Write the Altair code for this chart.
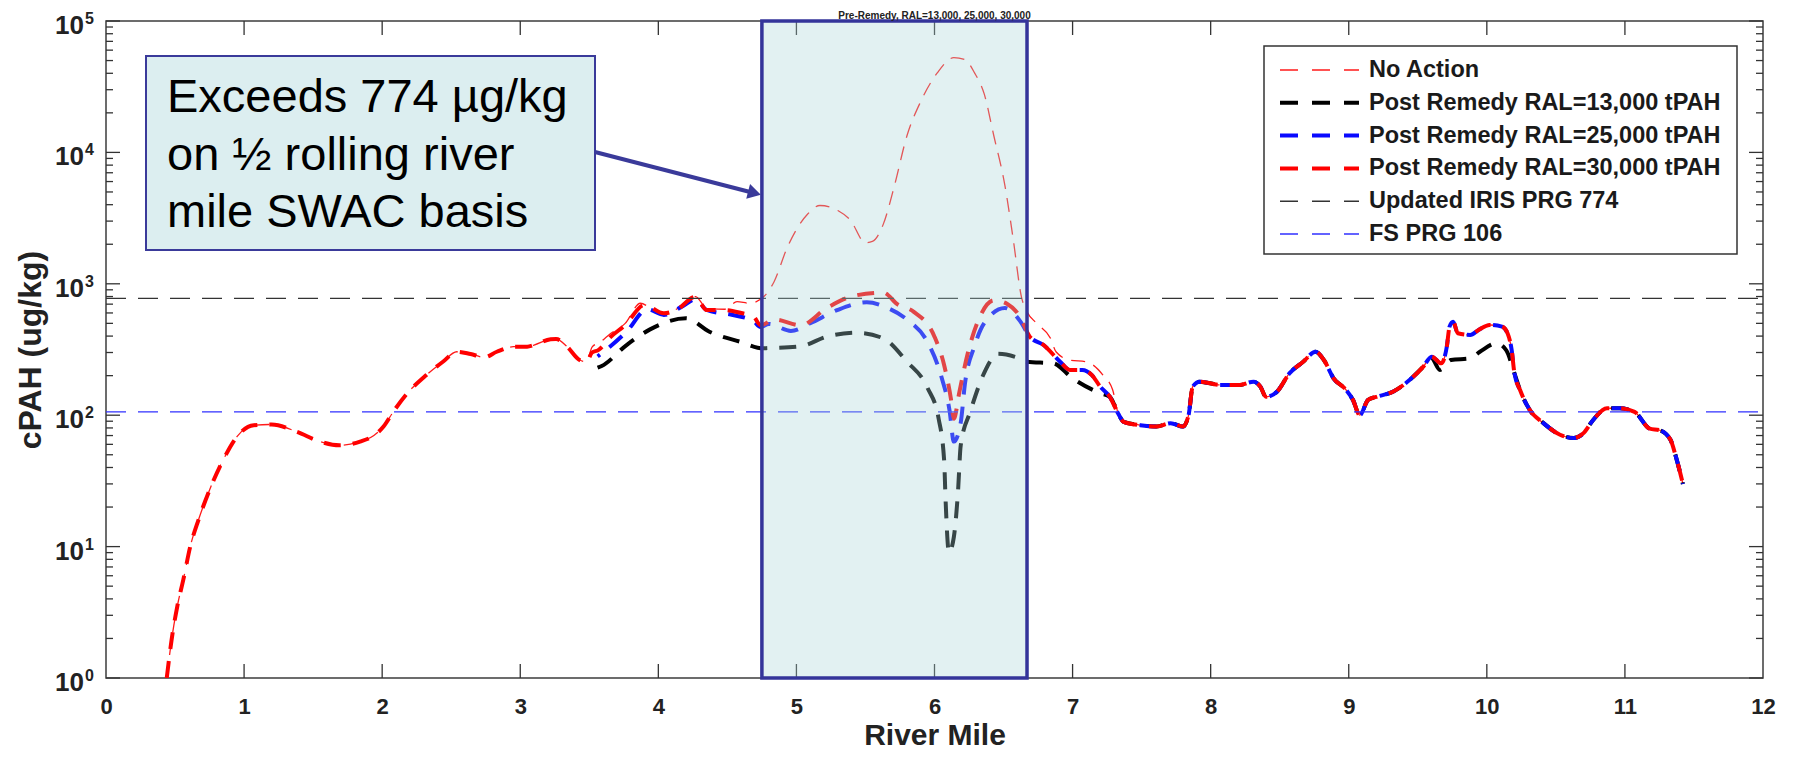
import altair as alt
import pandas as pd

# ---------------- data ----------------
x_ticks = list(range(0, 13))
decades = [1, 10, 100, 1000, 10000, 100000]
decade_exp = ["0", "1", "2", "3", "4", "5"]
minor_ticks = [k * d for d in [1, 10, 100, 1000, 10000] for k in range(2, 10)]

upstream_mile = [0.44, 0.475, 0.516, 0.56, 0.61, 0.67, 0.75, 0.85, 0.95, 1.07, 1.2, 1.38, 1.55, 1.69, 1.84,
                 1.94, 2.01, 2.08, 2.17, 2.32, 2.44, 2.54, 2.64, 2.74, 2.83, 2.95, 3.05, 3.10, 3.22, 3.26,
                 3.34, 3.43, 3.48]
upstream_cpah = [1.0, 1.95, 3.5, 5.6, 10, 16, 27, 46, 69, 84, 85, 75, 63, 59, 63,
                 70, 82, 106, 142, 202, 255, 304, 292, 276, 304, 332, 332, 342, 378, 380,
                 332, 263, 255]

noaction_mid_mile = [3.52, 3.58, 3.65, 3.76, 3.87, 3.95, 4.04, 4.13, 4.27, 4.35, 4.48, 4.57, 4.66, 4.77, 4.84,
                     4.93, 5.08, 5.17, 5.30, 5.39, 5.50, 5.55, 5.63, 5.71, 5.80, 5.90, 6.02, 6.14, 6.22, 6.29,
                     6.36, 6.43, 6.51, 6.57, 6.63, 6.67, 6.74, 6.84, 6.88, 6.98, 7.10, 7.22, 7.29]
noaction_mid_cpah = [330, 360, 415, 500, 711, 650, 600, 640, 800, 650, 640, 731, 711, 811, 1047,
                     1849, 3380, 3945, 3615, 3057, 2050, 2100, 2858, 5585, 13330, 24380, 40270, 52600, 50850, 40270,
                     27860, 13330, 5585, 2188, 791, 613, 500, 385, 304, 263, 255, 202, 156]

ral30_mid_mile = [3.52, 3.565, 3.65, 3.76, 3.90, 4.04, 4.13, 4.27, 4.35, 4.48, 4.60, 4.69, 4.74, 4.84, 5.03,
                  5.22, 5.42, 5.63, 5.73, 5.85, 6.00, 6.07, 6.12, 6.14, 6.18, 6.24, 6.32, 6.43, 6.53, 6.62]
ral30_mid_cpah = [300, 313, 390, 486, 690, 596, 632, 798, 632, 632, 600, 562, 484, 535, 484,
                  655, 811, 857, 700, 612, 396, 240, 131, 94, 150, 293, 535, 749, 700, 560]

ral25_mid_mile = [3.56, 3.59, 3.77, 3.92, 4.04, 4.17, 4.27, 4.35, 4.54, 4.69, 4.74, 4.80, 4.96, 5.10, 5.30,
                  5.51, 5.66, 5.80, 5.95, 6.05, 6.11, 6.14, 6.19, 6.22, 6.29, 6.36, 6.51, 6.62]
ral25_mid_cpah = [280, 296, 432, 640, 580, 670, 760, 632, 579, 520, 470, 495, 438, 501, 634,
                  724, 655, 535, 359, 196, 107, 63, 88, 172, 336, 501, 655, 520]

ral13_mid_mile = [3.56, 3.59, 3.77, 3.94, 4.20, 4.37, 4.59, 4.76, 4.79, 5.03, 5.22, 5.44, 5.63, 5.80, 5.95,
                  6.03, 6.07, 6.08, 6.105, 6.14, 6.17, 6.19, 6.26, 6.36, 6.46, 6.60, 6.67, 6.86, 7.00, 7.20,
                  7.27]
ral13_mid_cpah = [230, 237, 342, 450, 546, 432, 363, 323, 324, 335, 396, 424, 384, 256, 161,
                  94, 45, 23, 9.0, 11.8, 26, 59, 107, 210, 293, 274, 255, 248, 191, 147,
                  138]

recovery_mile = [6.69, 6.79, 6.91, 6.98, 7.07, 7.14, 7.20, 7.27]
recovery_cpah = [396, 342, 255, 221, 221, 202, 165, 138]

lower_mile = [7.33, 7.37, 7.49, 7.61, 7.71, 7.80, 7.84, 7.87, 7.92, 8.07, 8.21, 8.31, 8.36, 8.40, 8.48,
              8.57, 8.67, 8.76, 8.82, 8.89, 8.98, 9.03, 9.08, 9.14, 9.20, 9.32, 9.44, 9.54]
lower_cpah = [103, 89, 84, 82, 87, 82, 100, 165, 180, 170, 170, 180, 165, 138, 151,
              208, 255, 304, 263, 191, 156, 131, 100, 131, 138, 151, 185, 234]

peak_mile = [9.60, 9.67, 9.71, 9.73, 9.756, 9.79, 9.88, 9.94, 10.02, 10.11, 10.15, 10.18]
peak_cpah = [279, 248, 332, 472, 515, 420, 408, 445, 486, 472, 420, 313]

ral13_peak_mile = [9.60, 9.66, 9.74, 9.88, 9.95, 10.07, 10.14]
ral13_peak_cpah = [270, 221, 263, 271, 304, 352, 313]

tail_mile = [10.20, 10.24, 10.31, 10.41, 10.53, 10.63, 10.70, 10.77, 10.87, 10.96, 11.07, 11.18, 11.25,
             11.33, 11.37, 11.42]
tail_cpah = [208, 156, 110, 87, 71, 67, 73, 92, 113, 113, 106, 79, 77, 65, 48, 30]

iris_prg = 774
fs_prg = 106
region_start, region_end = 4.75, 6.67

legend_labels = ["No Action", "Post Remedy RAL=13,000 tPAH", "Post Remedy RAL=25,000 tPAH",
                 "Post Remedy RAL=30,000 tPAH", "Updated IRIS PRG 774", "FS PRG 106"]
note_lines = ["Exceeds 774 \u00b5g/kg", "on \u00bd rolling river", "mile SWAC basis"]
title_text = "Pre-Remedy, RAL=13,000, 25,000, 30,000"

# ---------------- helpers ----------------
W, H = 1657, 657
FONT = "Liberation Sans, Arial, Helvetica, sans-serif"
TXT = "#222222"
xs = alt.Scale(domain=[0, 12], nice=False, zero=False)
ys = alt.Scale(type="log", domain=[1, 100000], nice=False)

x_axis = alt.Axis(values=x_ticks, format="d", ticks=False, tickSize=0, domain=False, grid=False,
                  labelFont=FONT, labelFontSize=22, labelFontWeight="bold", labelColor=TXT,
                  labelPadding=18, labelFlush=False, labelOverlap=False,
                  title="River Mile", titleFont=FONT, titleFontSize=30, titleFontWeight="bold",
                  titleColor=TXT, titleY=57, titleBaseline="middle")
y_axis = alt.Axis(labels=False, ticks=False, domain=False, grid=False,
                  title="cPAH (ug/kg)", titleFont=FONT, titleFontSize=32, titleFontWeight="bold",
                  titleColor=TXT, titleX=-76, titleY=H / 2, titleAngle=270,
                  titleBaseline="middle", titleAlign="center")


def X():
    return alt.X("mile:Q", scale=xs, axis=x_axis)


def Y():
    return alt.Y("cpah:Q", scale=ys, axis=y_axis)


def frame(m, v):
    return pd.DataFrame({"mile": m, "cpah": v})


na_df = frame(upstream_mile + noaction_mid_mile + lower_mile + peak_mile + tail_mile,
              upstream_cpah + noaction_mid_cpah + lower_cpah + peak_cpah + tail_cpah)
r30_df = frame(upstream_mile + ral30_mid_mile + recovery_mile + lower_mile + peak_mile + tail_mile,
               upstream_cpah + ral30_mid_cpah + recovery_cpah + lower_cpah + peak_cpah + tail_cpah)
r25_df = frame(ral25_mid_mile + recovery_mile + lower_mile + peak_mile + tail_mile,
               ral25_mid_cpah + recovery_cpah + lower_cpah + peak_cpah + tail_cpah)
r13_df = frame(ral13_mid_mile + lower_mile + ral13_peak_mile + tail_mile,
               ral13_mid_cpah + lower_cpah + ral13_peak_cpah + tail_cpah)

styles = [
    dict(color="#ff1a1a", width=1.3, dash=[14, 9], off=0),
    dict(color="#000000", width=4, dash=[17, 12], off=0),
    dict(color="#0a0aff", width=4, dash=[17, 12], off=14),
    dict(color="#ff0000", width=4, dash=[17, 12], off=0),
    dict(color="#333333", width=1.4, dash=[20, 12], off=0),
    dict(color="#3030ff", width=1.4, dash=[20, 12], off=0),
]


def series(df, s):
    return alt.Chart(df).mark_line(color=s["color"], strokeWidth=s["width"], strokeDash=s["dash"],
                                   strokeDashOffset=s["off"], interpolate="monotone",
                                   clip=True).encode(x=X(), y=Y())


layers = []

# ticks (inside, MATLAB style)
TICK = "#333333"
ymaj = pd.DataFrame({"cpah": decades})
ymin = pd.DataFrame({"cpah": minor_ticks})
xmaj = pd.DataFrame({"mile": x_ticks[1:-1]})
for df, a, b in [(ymaj, 0, 14), (ymin, 0, 7), (ymaj, W - 14, W), (ymin, W - 7, W)]:
    layers.append(alt.Chart(df).mark_rule(color=TICK, strokeWidth=1.3).encode(
        y=Y(), x=alt.value(a), x2=alt.value(b)))
for a, b in [(H - 14, H), (0, 14)]:
    layers.append(alt.Chart(xmaj).mark_rule(color=TICK, strokeWidth=1.3).encode(
        x=X(), y=alt.value(a), y2=alt.value(b)))

# series
layers.append(series(na_df, styles[0]))
layers.append(series(r13_df, styles[1]))
layers.append(series(r25_df, styles[2]))
layers.append(series(r30_df, styles[3]))

# reference lines
for val, s in [(iris_prg, styles[4]), (fs_prg, styles[5])]:
    layers.append(alt.Chart(pd.DataFrame({"cpah": [val]})).mark_rule(
        color=s["color"], strokeWidth=s["width"], strokeDash=s["dash"]).encode(
        y=Y(), x=alt.value(0), x2=alt.value(W)))

# highlighted river-mile region (translucent overlay)
region_df = pd.DataFrame({"mile": [region_start], "mile_end": [region_end]})
layers.append(alt.Chart(region_df).mark_rect(fill="#a6d6d8", fillOpacity=0.33, stroke="#34349a",
                                             strokeWidth=3.5).encode(
    x=X(), x2=alt.X2("mile_end"), y=alt.value(0), y2=alt.value(H)))

one = pd.DataFrame({"k": [0]})
NAVY = "#3a3a9a"
# annotation box, text and arrow
layers.append(alt.Chart(one).mark_rect(fill="#dceef0", stroke=NAVY, strokeWidth=2).encode(
    x=alt.value(40), x2=alt.value(489), y=alt.value(35), y2=alt.value(229)))
for i, line in enumerate(note_lines):
    layers.append(alt.Chart(one).mark_text(text=line, font=FONT, fontSize=47, color="#000000",
                                           align="left", baseline="alphabetic").encode(
        x=alt.value(61), y=alt.value(91 + i * 57.5)))
layers.append(alt.Chart(one).mark_rule(color=NAVY, strokeWidth=4).encode(
    x=alt.value(489), y=alt.value(131), x2=alt.value(647), y2=alt.value(171.7)))
layers.append(alt.Chart(one).mark_point(shape="triangle-right", filled=True, size=230, angle=14.5,
                                        color=NAVY, opacity=1).encode(
    x=alt.value(648.5), y=alt.value(172)))

# legend
layers.append(alt.Chart(one).mark_rect(fill="white", stroke="#333333", strokeWidth=1.5).encode(
    x=alt.value(1158), x2=alt.value(1631), y=alt.value(25), y2=alt.value(233)))
for i, (lab, s) in enumerate(zip(legend_labels, styles)):
    yy = 49 + i * 32.8
    layers.append(alt.Chart(one).mark_rule(color=s["color"], strokeWidth=s["width"],
                                           strokeDash=[18, 14]).encode(
        x=alt.value(1174), x2=alt.value(1253), y=alt.value(yy)))
    layers.append(alt.Chart(one).mark_text(text=lab, font=FONT, fontSize=23.5, fontWeight="bold",
                                           color="#1a1a1a", align="left", baseline="middle").encode(
        x=alt.value(1263), y=alt.value(yy)))

# y tick labels 10^n
ylab = pd.DataFrame({"cpah": decades, "exp": decade_exp})
layers.append(alt.Chart(ylab).mark_text(text="10", font=FONT, fontSize=26, fontWeight="bold",
                                        color=TXT, align="right", baseline="middle", dy=5).encode(
    y=Y(), x=alt.value(-22)))
layers.append(alt.Chart(ylab).mark_text(font=FONT, fontSize=16, fontWeight="bold", color=TXT,
                                        align="left", baseline="middle", dy=-2).encode(
    y=Y(), x=alt.value(-21), text="exp:N"))

# title (kept small so that it fits above the plot frame)
layers.append(alt.Chart(one).mark_text(text=title_text, font=FONT, fontSize=10, fontWeight="bold",
                                       color=TXT, align="center", baseline="bottom").encode(
    x=alt.value(W / 2), y=alt.value(0)))

chart = alt.layer(*layers).properties(
    width=W, height=H,
    autosize=alt.AutoSizeParams(type="none"),
    padding={"left": 98, "top": 13, "right": 20, "bottom": 72},
    background="white",
).configure_view(stroke="#3c3c3c", strokeWidth=1.5)

chart.save("out.html", embed_options={"renderer": "svg", "actions": False})
